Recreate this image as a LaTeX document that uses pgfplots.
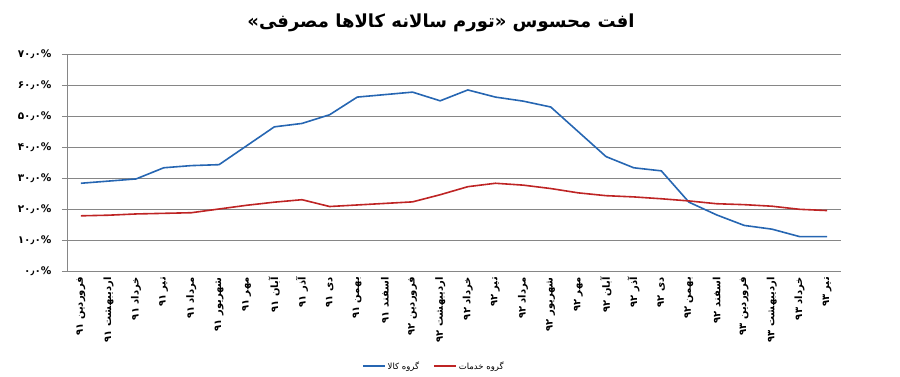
\documentclass[border=0pt]{standalone}
\usepackage{fontspec}
\usepackage{pgfplots}
\pgfplotsset{compat=1.18}
\TeXXeTstate=1
\newfontfamily\fa[Script=Arabic]{DejaVu Sans}
\definecolor{cblue}{RGB}{38,102,178}
\definecolor{cred}{RGB}{190,36,36}
\definecolor{axgray}{RGB}{134,134,134}
\newcommand{\RTL}[1]{\beginR #1\endR}
\newcommand{\LTR}[1]{\beginL #1\endL}
\begin{document}
\begin{tikzpicture}
\path[use as bounding box] (0pt,0pt) rectangle (900pt,377pt);
\node[font=\fa\bfseries\fontsize{18}{21}\selectfont] at (441pt,354pt) {\RTL{افت محسوس «تورم سالانه کالاها مصرفی»}};
\begin{axis}[
  at={(67pt,106pt)}, anchor=south west,
  scale only axis, width=774pt, height=217pt,
  xmin=-0.5, xmax=27.5, ymin=0, ymax=70,
  axis x line=bottom, axis y line=left,
  axis line style={-, draw=axgray, line width=0.8pt},
  tick align=outside,
  xtick={0,...,27}, x tick style={draw=none},
  extra x ticks={-0.5,0.5,...,27.5}, extra x tick labels={},
  extra x tick style={major tick length=5pt, tick style={draw=axgray, line width=0.8pt}},
  ytick={0,10,...,70}, major tick length=5pt,
  y tick style={draw=axgray, line width=0.8pt},
  ymajorgrids, grid style={axgray, line width=0.8pt},
  yticklabels={{۰٫۰\%},{۱۰٫۰\%},{۲۰٫۰\%},{۳۰٫۰\%},{۴۰٫۰\%},{۵۰٫۰\%},{۶۰٫۰\%},{۷۰٫۰\%}},
  yticklabel style={font=\fa\bfseries\fontsize{10.5}{12}\selectfont, xshift=-7pt},
  xticklabels={
    {\RTL{فروردین \LTR{۹۱}}},
    {\RTL{اردیبهشت \LTR{۹۱}}},
    {\RTL{خرداد \LTR{۹۱}}},
    {\RTL{تیر \LTR{۹۱}}},
    {\RTL{مرداد \LTR{۹۱}}},
    {\RTL{شهریور \LTR{۹۱}}},
    {\RTL{مهر \LTR{۹۱}}},
    {\RTL{آبان \LTR{۹۱}}},
    {\RTL{آذر \LTR{۹۱}}},
    {\RTL{دی \LTR{۹۱}}},
    {\RTL{بهمن \LTR{۹۱}}},
    {\RTL{اسفند \LTR{۹۱}}},
    {\RTL{فروردین \LTR{۹۲}}},
    {\RTL{اردیبهشت \LTR{۹۲}}},
    {\RTL{خرداد \LTR{۹۲}}},
    {\RTL{تیر \LTR{۹۲}}},
    {\RTL{مرداد \LTR{۹۲}}},
    {\RTL{شهریور \LTR{۹۲}}},
    {\RTL{مهر \LTR{۹۲}}},
    {\RTL{آبان \LTR{۹۲}}},
    {\RTL{آذر \LTR{۹۲}}},
    {\RTL{دی \LTR{۹۲}}},
    {\RTL{بهمن \LTR{۹۲}}},
    {\RTL{اسفند \LTR{۹۲}}},
    {\RTL{فروردین \LTR{۹۳}}},
    {\RTL{اردیبهشت \LTR{۹۳}}},
    {\RTL{خرداد \LTR{۹۳}}},
    {\RTL{تیر \LTR{۹۳}}}
  },
  xticklabel style={rotate=90, anchor=east, inner sep=1pt, font=\fa\bfseries\fontsize{10}{11}\selectfont},
  legend style={at={(rel axis cs:0.474,-0.438)}, anchor=center, draw=none, fill=none,
    legend columns=2, font=\fa\fontsize{8.5}{10}\selectfont,
    /tikz/every even column/.append style={column sep=12pt}},
  legend image code/.code={\draw[#1] (0pt,0pt) -- (22pt,0pt);},
]
\addplot[cblue, line width=1.6pt] coordinates {
(0,28.3)(1,29.0)(2,29.7)(3,33.3)(4,34.0)(5,34.3)(6,40.4)(7,46.5)(8,47.6)(9,50.4)
(10,56.1)(11,56.9)(12,57.7)(13,54.9)(14,58.4)(15,56.1)(16,54.8)(17,52.9)(18,44.9)(19,36.9)
(20,33.3)(21,32.3)(22,22.2)(23,18.1)(24,14.7)(25,13.5)(26,11.1)(27,11.1)};
\addlegendentry{\RTL{گروه کالا}}
\addplot[cred, line width=1.6pt] coordinates {
(0,17.8)(1,18.0)(2,18.4)(3,18.6)(4,18.8)(5,20.0)(6,21.2)(7,22.2)(8,23.0)(9,20.8)
(10,21.3)(11,21.8)(12,22.3)(13,24.6)(14,27.2)(15,28.3)(16,27.7)(17,26.6)(18,25.2)(19,24.3)
(20,23.9)(21,23.3)(22,22.6)(23,21.7)(24,21.4)(25,20.9)(26,19.9)(27,19.5)};
\addlegendentry{\RTL{گروه خدمات}}
\end{axis}
\end{tikzpicture}
\end{document}
